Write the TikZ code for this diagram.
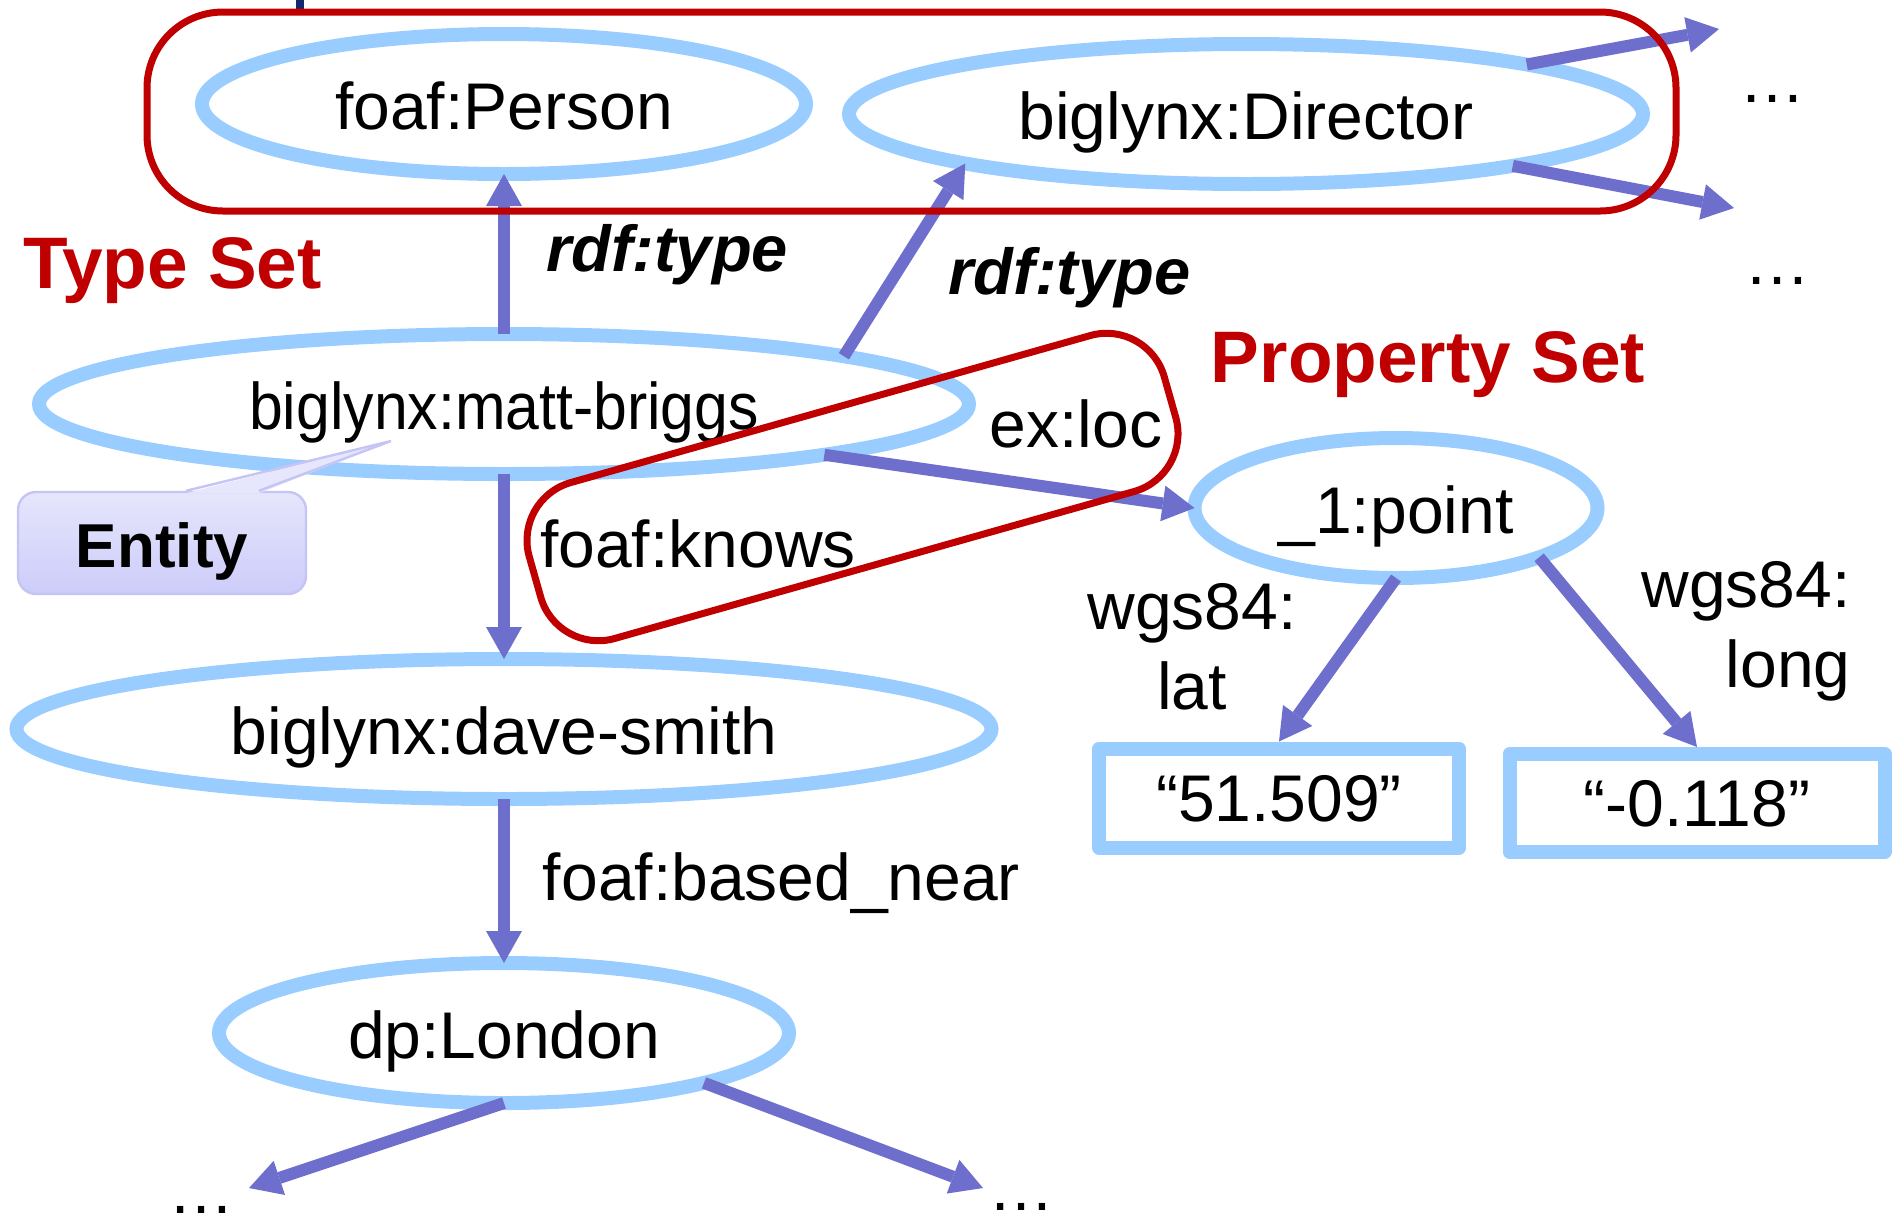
\documentclass[tikz,border=0pt]{standalone}
\usepackage{fontspec}
\usepackage{graphicx}
\setmainfont{Liberation Sans}
\usetikzlibrary{arrows.meta,shapes.geometric}
\definecolor{nodeblue}{RGB}{153,204,255}
\definecolor{arrowblue}{RGB}{110,110,205}
\definecolor{setred}{RGB}{192,0,0}
\definecolor{navyline}{RGB}{20,40,110}
\definecolor{calltop}{RGB}{230,230,252}
\definecolor{callbot}{RGB}{204,204,250}
\definecolor{callborder}{RGB}{196,196,245}
\begin{document}
\begin{tikzpicture}[x=0.5pt,y=-0.5pt,
  lbl/.style={font=\fontsize{33}{40}\selectfont, inner sep=0pt},
  res/.style={ellipse, draw=nodeblue, line width=7pt, inner sep=0pt, outer sep=0pt,
    minimum height=70pt, font=\fontsize{33}{40}\selectfont, text height=25pt, text depth=0pt},
  lit/.style={rectangle, draw=nodeblue, line width=7pt, line join=round, inner sep=0pt,
    minimum height=49.5pt, font=\fontsize{33}{40}\selectfont, text height=23pt, text depth=0pt},
  rel/.style={draw=arrowblue, line width=6pt, -{Triangle[width=18pt,length=16pt,line width=0pt]}},
  setbox/.style={draw=setred, line width=3.5pt, rectangle, inner sep=0pt},
  setlbl/.style={text=setred, font=\fontsize{36.5}{44}\selectfont\bfseries, inner sep=0pt},
  typelbl/.style={font=\fontsize{32.5}{39}\selectfont\bfseries\itshape, inner sep=0pt},
  dotlbl/.style={font=\fontsize{33}{40}\selectfont, inner sep=0pt}
]
\useasboundingbox (0,0) rectangle (1894,1228);

% stray navy line at top
\coordinate (nv1) at (300,0);
\coordinate (nv2) at (300,10);
\draw[navyline, line width=4pt] (nv1) -- (nv2);

% resource nodes
\node[res, minimum width=302pt] (fp) at (504,104) {foaf:Person};
\node[res, minimum width=397pt] (dir) at (1246,114) {biglynx:Director};
\node[res, minimum width=465pt] (mb) at (504,404) {\scalebox{0.92}[1]{biglynx:matt-briggs}};
\node[res, minimum width=487.5pt] (ds) at (504,729) {biglynx:dave-smith};
\node[res, minimum width=285pt] (lon) at (504,1033) {dp:London};
\node[res, minimum width=201.5pt] (pt) at (1396,508) {\_1:point};
\node[lit, minimum width=180pt] (latv) at (1279,798) {“51.509”};
\node[lit, minimum width=187.5pt, minimum height=49pt] (longv) at (1697,803) {“-0.118”};

% free ends
\coordinate (c1) at (1719,29);
\coordinate (c2) at (1734,208);
\coordinate (c3) at (249,1188);
\coordinate (c4) at (983,1188);

% connectors
\draw[rel] (mb.north) -- (fp.south);
\draw[rel] (mb.8.8) -- (dir.190.3);
\draw[rel] (dir.10.1) -- (c1);
\draw[rel] (dir.349.7) -- (c2);
\draw[rel] (mb.351.8) -- (pt.west);
\draw[rel] (mb.south) -- (ds.north);
\draw[rel] (ds.south) -- (lon.north);
\draw[rel] (lon.south) -- (c3);
\draw[rel] (lon.346.4) -- (c4);
\draw[rel] (pt.south) -- (latv.north);
\draw[rel] (pt.-19.3) -- (longv.north);

% Entity callout
\node[draw=callborder, line width=1.2pt, rounded corners=9pt, top color=calltop, bottom color=callbot,
  minimum width=144pt, minimum height=51pt, inner sep=0pt,
  font=\fontsize{31}{37}\selectfont\bfseries, text height=24pt, text depth=0pt] (entity) at (162,543) {Entity};
\coordinate (ptip) at (391,441);
\fill[calltop] ([xshift=12pt,yshift=-1.2pt]entity.north) -- (ptip) -- ([xshift=48.5pt,yshift=-1.2pt]entity.north) -- cycle;
\draw[callborder, line width=1.2pt] ([xshift=12pt]entity.north) -- (ptip) -- ([xshift=48.5pt]entity.north);

% set outlines
\node[setbox, rounded corners=38pt, minimum width=764.5pt, minimum height=99.5pt] (typeset) at (911.5,111.5) {};
\node[setbox, rounded corners=30pt, rotate=15.8, minimum width=330pt, minimum height=81pt] (propset) at (852.5,487) {};

% labels
\node[setlbl, anchor=base] (tslbl) at (172.5,288) {Type Set};
\node[setlbl, anchor=base] (pslbl) at (1428,382) {Property Set};
\node[typelbl, anchor=base] (rt1) at (667,271) {rdf:type};
\node[typelbl, anchor=base] (rt2) at (1069.5,294) {rdf:type};
\node[lbl, anchor=base] (exloc) at (1076,447) {ex:loc};
\node[lbl, anchor=base] (knows) at (698,567) {foaf:knows};
\node[lbl, anchor=base] (near) at (781.5,900) {foaf:based\_near};
\node[lbl, anchor=base, align=center] (wlat) at (1192,709) {wgs84:\\lat};
\node[lbl, anchor=base east, align=right] (wlong) at (1851,687) {wgs84:\\long};

% ellipses of continuation
\node[dotlbl, anchor=base] (d1) at (1772.5,102) {…};
\node[dotlbl, anchor=base] (d2) at (1777.5,284) {…};
\node[dotlbl, anchor=base] (d3) at (201,1213) {…};
\node[dotlbl, anchor=base] (d4) at (1021.5,1210) {…};
\end{tikzpicture}
\end{document}
